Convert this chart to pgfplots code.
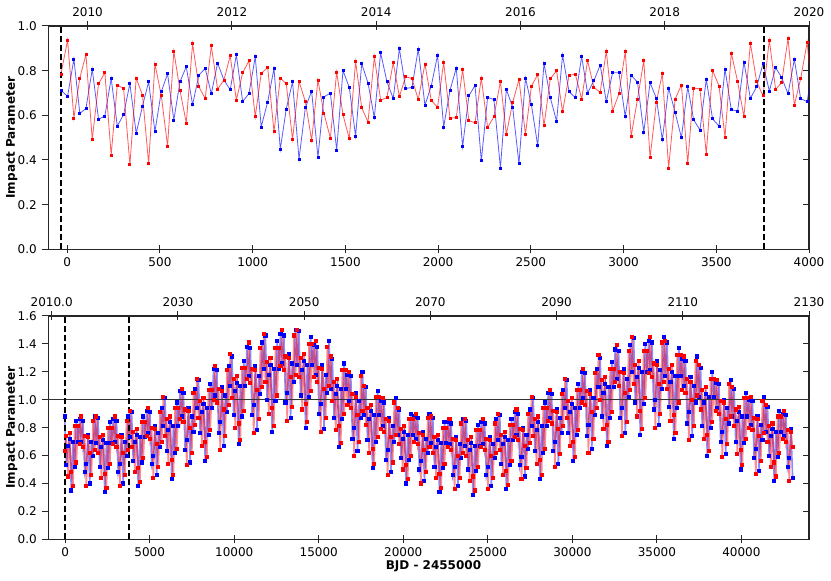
\documentclass[border=0pt]{standalone}
\usepackage{fontspec}
\setmainfont{DejaVu Sans}
\usepackage{pgfplots}
\usepackage{pgfplotstable}
\pgfplotsset{compat=1.18}

\pgfplotstableread{
x r b
-34 0.785 0.712
2 0.936 0.685
36 0.588 0.852
68 0.767 0.609
101 0.873 0.630
135 0.492 0.807
169 0.742 0.582
203 0.790 0.597
237 0.422 0.765
270 0.736 0.552
304 0.720 0.603
338 0.379 0.742
372 0.767 0.519
406 0.690 0.642
439 0.384 0.750
473 0.830 0.527
507 0.690 0.705
541 0.463 0.786
575 0.887 0.579
608 0.712 0.750
642 0.566 0.818
676 0.921 0.647
710 0.728 0.780
744 0.675 0.810
777 0.911 0.697
811 0.717 0.834
845 0.758 0.758
879 0.867 0.715
912 0.668 0.871
946 0.790 0.662
980 0.844 0.697
1014 0.594 0.862
1046 0.787 0.548
1081 0.815 0.660
1115 0.527 0.810
1149 0.766 0.448
1181 0.742 0.628
1215 0.492 0.750
1250 0.752 0.404
1284 0.662 0.634
1318 0.488 0.708
1352 0.758 0.412
1384 0.610 0.682
1419 0.498 0.700
1453 0.794 0.445
1487 0.603 0.800
1521 0.495 0.725
1555 0.841 0.507
1588 0.634 0.831
1622 0.570 0.745
1656 0.862 0.590
1690 0.668 0.880
1724 0.679 0.751
1758 0.836 0.675
1791 0.684 0.899
1825 0.773 0.720
1859 0.764 0.725
1893 0.671 0.897
1929 0.830 0.645
1963 0.667 0.731
1997 0.636 0.869
2030 0.837 0.548
2064 0.588 0.712
2098 0.590 0.812
2132 0.805 0.460
2166 0.576 0.687
2199 0.567 0.734
2233 0.767 0.396
2267 0.545 0.681
2301 0.594 0.670
2336 0.752 0.364
2368 0.515 0.716
2402 0.657 0.636
2436 0.760 0.384
2471 0.515 0.767
2503 0.731 0.648
2537 0.782 0.464
2571 0.554 0.833
2605 0.764 0.679
2639 0.799 0.573
2671 0.616 0.870
2706 0.779 0.706
2740 0.784 0.679
2774 0.673 0.863
2806 0.845 0.700
2840 0.725 0.755
2874 0.703 0.825
2907 0.888 0.661
2941 0.619 0.791
2975 0.696 0.791
3009 0.885 0.594
3041 0.507 0.779
3075 0.672 0.749
3109 0.845 0.525
3143 0.410 0.746
3177 0.660 0.676
3209 0.787 0.490
3243 0.364 0.722
3278 0.672 0.613
3312 0.736 0.500
3346 0.386 0.728
3378 0.722 0.580
3412 0.718 0.534
3446 0.427 0.761
3480 0.801 0.584
3515 0.731 0.551
3547 0.501 0.807
3581 0.879 0.625
3615 0.751 0.619
3649 0.594 0.839
3684 0.922 0.676
3718 0.750 0.728
3752 0.687 0.831
3786 0.937 0.709
3820 0.716 0.813
3852 0.746 0.770
3887 0.945 0.696
3921 0.646 0.851
3955 0.764 0.675
3990 0.927 0.661
4024 0.630 0.840
}\topdata

\pgfplotstableread{
x r b
-34 0.63 0.88
65 0.74 0.53
164 0.45 0.67
263 0.76 0.72
362 0.48 0.35
461 0.38 0.70
560 0.81 0.52
659 0.55 0.85
758 0.81 0.70
857 0.68 0.86
956 0.88 0.70
1055 0.66 0.85
1154 0.74 0.48
1253 0.38 0.54
1352 0.73 0.75
1451 0.62 0.40
1550 0.46 0.70
1649 0.85 0.60
1748 0.64 0.88
1847 0.88 0.69
1946 0.62 0.87
2045 0.73 0.52
2144 0.44 0.66
2243 0.75 0.71
2342 0.47 0.34
2441 0.37 0.69
2540 0.80 0.51
2639 0.54 0.84
2738 0.80 0.69
2837 0.68 0.86
2936 0.88 0.70
3035 0.66 0.85
3134 0.74 0.48
3233 0.38 0.54
3332 0.73 0.75
3431 0.62 0.40
3530 0.46 0.70
3629 0.85 0.60
3728 0.64 0.88
3827 0.92 0.73
3926 0.66 0.91
4025 0.77 0.56
4124 0.48 0.70
4223 0.79 0.75
4322 0.51 0.38
4421 0.41 0.73
4520 0.84 0.55
4619 0.58 0.88
4718 0.84 0.73
4817 0.74 0.92
4916 0.94 0.76
5015 0.72 0.91
5114 0.80 0.54
5213 0.44 0.60
5312 0.79 0.81
5411 0.68 0.46
5510 0.52 0.76
5609 0.91 0.66
5708 0.70 0.94
5807 1.02 0.81
5906 0.74 1.01
6005 0.86 0.63
6104 0.54 0.78
6203 0.88 0.84
6302 0.57 0.43
6401 0.46 0.81
6500 0.94 0.62
6599 0.65 0.98
6698 0.94 0.81
6797 0.86 1.06
6896 1.08 0.88
6995 0.84 1.05
7094 0.93 0.64
7193 0.53 0.71
7292 0.92 0.94
7391 0.80 0.55
7490 0.62 0.88
7589 1.05 0.77
7688 0.82 1.08
7787 1.15 0.94
7886 0.87 1.14
7985 0.99 0.76
8084 0.67 0.91
8183 1.01 0.97
8282 0.70 0.56
8381 0.59 0.94
8480 1.07 0.75
8579 0.78 1.11
8678 1.07 0.94
8777 1.00 1.22
8876 1.24 1.03
8975 0.98 1.21
9074 1.08 0.76
9173 0.64 0.84
9272 1.06 1.09
9371 0.93 0.67
9470 0.74 1.03
9569 1.21 0.91
9668 0.96 1.24
9767 1.33 1.10
9866 1.01 1.31
9965 1.15 0.89
10064 0.80 1.06
10163 1.17 1.12
10262 0.83 0.68
10361 0.71 1.10
10460 1.23 0.88
10559 0.92 1.28
10658 1.23 1.10
10757 1.15 1.38
10856 1.41 1.17
10955 1.12 1.37
11054 1.22 0.89
11153 0.76 0.96
11252 1.21 1.24
11351 1.07 0.78
11450 0.86 1.17
11549 1.37 1.04
11648 1.09 1.41
11747 1.47 1.22
11846 1.13 1.46
11945 1.27 1.00
12044 0.90 1.18
12143 1.30 1.25
12242 0.94 0.77
12341 0.81 1.22
12440 1.37 0.99
12539 1.03 1.42
12638 1.37 1.22
12737 1.24 1.47
12836 1.50 1.26
12935 1.21 1.46
13034 1.31 0.98
13133 0.85 1.05
13232 1.30 1.33
13331 1.16 0.87
13430 0.95 1.26
13529 1.46 1.13
13628 1.18 1.50
13727 1.50 1.25
13826 1.16 1.49
13925 1.30 1.03
14024 0.93 1.21
14123 1.33 1.28
14222 0.97 0.80
14321 0.84 1.25
14420 1.40 1.02
14519 1.06 1.45
14618 1.40 1.25
14717 1.16 1.39
14816 1.42 1.18
14915 1.13 1.38
15014 1.23 0.90
15113 0.77 0.97
15212 1.22 1.25
15311 1.08 0.79
15410 0.87 1.18
15509 1.38 1.05
15608 1.10 1.42
15707 1.31 1.08
15806 0.99 1.29
15905 1.13 0.87
16004 0.78 1.04
16103 1.15 1.10
16202 0.81 0.66
16301 0.69 1.08
16400 1.21 0.86
16499 0.90 1.26
16598 1.21 1.08
16697 0.96 1.18
16796 1.20 0.99
16895 0.94 1.17
16994 1.04 0.72
17093 0.60 0.80
17192 1.02 1.05
17291 0.89 0.63
17390 0.70 0.99
17489 1.17 0.87
17588 0.92 1.20
17687 1.10 0.89
17786 0.82 1.09
17885 0.94 0.71
17984 0.62 0.86
18083 0.96 0.92
18182 0.65 0.51
18281 0.54 0.89
18380 1.02 0.70
18479 0.73 1.06
18578 1.02 0.89
18677 0.79 0.99
18776 1.01 0.81
18875 0.77 0.98
18974 0.86 0.57
19073 0.46 0.64
19172 0.85 0.87
19271 0.73 0.48
19370 0.55 0.81
19469 0.98 0.70
19568 0.75 1.01
19667 0.94 0.75
19766 0.68 0.93
19865 0.79 0.58
19964 0.50 0.72
20063 0.81 0.77
20162 0.53 0.40
20261 0.43 0.75
20360 0.86 0.57
20459 0.60 0.90
20558 0.86 0.75
20657 0.70 0.88
20756 0.90 0.72
20855 0.68 0.87
20954 0.76 0.50
21053 0.40 0.56
21152 0.75 0.77
21251 0.64 0.42
21350 0.48 0.72
21449 0.87 0.62
21548 0.66 0.90
21647 0.88 0.69
21746 0.62 0.87
21845 0.73 0.52
21944 0.44 0.66
22043 0.75 0.71
22142 0.47 0.34
22241 0.37 0.69
22340 0.80 0.51
22439 0.54 0.84
22538 0.80 0.69
22637 0.66 0.84
22736 0.86 0.68
22835 0.64 0.83
22934 0.72 0.46
23033 0.36 0.52
23132 0.71 0.73
23231 0.60 0.38
23330 0.44 0.68
23429 0.83 0.58
23528 0.62 0.86
23627 0.86 0.67
23726 0.60 0.85
23825 0.71 0.50
23924 0.42 0.64
24023 0.73 0.69
24122 0.45 0.32
24221 0.35 0.67
24320 0.78 0.49
24419 0.52 0.82
24518 0.78 0.67
24617 0.66 0.84
24716 0.86 0.68
24815 0.64 0.83
24914 0.72 0.46
25013 0.36 0.52
25112 0.71 0.73
25211 0.60 0.38
25310 0.44 0.68
25409 0.83 0.58
25508 0.62 0.86
25607 0.90 0.71
25706 0.64 0.89
25805 0.75 0.54
25904 0.46 0.68
26003 0.77 0.73
26102 0.49 0.36
26201 0.39 0.71
26300 0.82 0.53
26399 0.56 0.86
26498 0.82 0.71
26597 0.73 0.91
26696 0.93 0.75
26795 0.71 0.90
26894 0.79 0.53
26993 0.43 0.59
27092 0.78 0.80
27191 0.67 0.45
27290 0.51 0.75
27389 0.90 0.65
27488 0.69 0.93
27587 1.02 0.81
27686 0.74 1.01
27785 0.86 0.63
27884 0.54 0.78
27983 0.88 0.84
28082 0.57 0.43
28181 0.46 0.81
28280 0.94 0.62
28379 0.65 0.98
28478 0.94 0.81
28577 0.85 1.05
28676 1.07 0.87
28775 0.83 1.04
28874 0.92 0.63
28973 0.52 0.70
29072 0.91 0.93
29171 0.79 0.54
29270 0.61 0.87
29369 1.04 0.76
29468 0.81 1.07
29567 1.15 0.94
29666 0.87 1.14
29765 0.99 0.76
29864 0.67 0.91
29963 1.01 0.97
30062 0.70 0.56
30161 0.59 0.94
30260 1.07 0.75
30359 0.78 1.11
30458 1.07 0.94
30557 0.98 1.20
30656 1.22 1.01
30755 0.96 1.19
30854 1.06 0.74
30953 0.62 0.82
31052 1.04 1.07
31151 0.91 0.65
31250 0.72 1.01
31349 1.19 0.89
31448 0.94 1.22
31547 1.32 1.09
31646 1.00 1.30
31745 1.14 0.88
31844 0.79 1.05
31943 1.16 1.11
32042 0.82 0.67
32141 0.70 1.09
32240 1.22 0.87
32339 0.91 1.27
32438 1.22 1.09
32537 1.13 1.36
32636 1.39 1.15
32735 1.10 1.35
32834 1.20 0.87
32933 0.74 0.94
33032 1.19 1.22
33131 1.05 0.76
33230 0.84 1.15
33329 1.35 1.02
33428 1.07 1.39
33527 1.45 1.20
33626 1.11 1.44
33725 1.25 0.98
33824 0.88 1.16
33923 1.28 1.23
34022 0.92 0.75
34121 0.79 1.20
34220 1.35 0.97
34319 1.01 1.40
34418 1.35 1.20
34517 1.19 1.42
34616 1.45 1.21
34715 1.16 1.41
34814 1.26 0.93
34913 0.80 1.00
35012 1.25 1.28
35111 1.11 0.82
35210 0.90 1.21
35309 1.41 1.08
35408 1.13 1.45
35507 1.42 1.17
35606 1.08 1.41
35705 1.22 0.95
35804 0.85 1.13
35903 1.25 1.20
36002 0.89 0.72
36101 0.76 1.17
36200 1.32 0.94
36299 0.98 1.37
36398 1.32 1.17
36497 1.07 1.29
36596 1.31 1.10
36695 1.05 1.28
36794 1.15 0.83
36893 0.71 0.91
36992 1.13 1.16
37091 1.00 0.74
37190 0.81 1.10
37289 1.28 0.98
37388 1.03 1.31
37487 1.25 1.02
37586 0.93 1.23
37685 1.07 0.81
37784 0.72 0.98
37883 1.09 1.04
37982 0.75 0.60
38081 0.63 1.02
38180 1.15 0.80
38279 0.84 1.20
38378 1.15 1.02
38477 0.92 1.12
38576 1.14 0.94
38675 0.90 1.11
38774 0.99 0.70
38873 0.59 0.77
38972 0.98 1.00
39071 0.86 0.61
39170 0.68 0.94
39269 1.11 0.83
39368 0.88 1.14
39467 1.09 0.88
39566 0.81 1.08
39665 0.93 0.70
39764 0.61 0.85
39863 0.95 0.91
39962 0.64 0.50
40061 0.53 0.88
40160 1.01 0.69
40259 0.72 1.05
40358 1.01 0.88
40457 0.80 1.00
40556 1.02 0.82
40655 0.78 0.99
40754 0.87 0.58
40853 0.47 0.65
40952 0.86 0.88
41051 0.74 0.49
41150 0.56 0.82
41249 0.99 0.71
41348 0.76 1.02
41447 0.96 0.77
41546 0.70 0.95
41645 0.81 0.60
41744 0.52 0.74
41843 0.83 0.79
41942 0.55 0.42
42041 0.45 0.77
42140 0.88 0.59
42239 0.62 0.92
42338 0.88 0.77
42437 0.72 0.90
42536 0.92 0.74
42635 0.70 0.89
42734 0.78 0.52
42833 0.42 0.58
42932 0.77 0.79
43031 0.66 0.44
}\botdata

\pgfplotsset{
  panel/.style={
    scale only axis, width=760.7bp, height=223.3bp, anchor=south west,
    axis line style={black!85, line width=1.1bp},
    tick style={black!85, line width=1bp},
    tick align=center, major tick length=6bp,
    ytick style={xshift=-3bp},
    xtick style={/pgfplots/major tick length=8bp},
    xtick pos=bottom, ytick pos=both,
    scaled x ticks=false, scaled y ticks=false,
    /pgf/number format/assume math mode=true,
    /pgf/number format/1000 sep={},
    yticklabel style={anchor=east, inner sep=0pt, xshift=-8.3bp,
      /pgf/number format/.cd, fixed, fixed zerofill, precision=1},
    xticklabel style={anchor=north, inner sep=0pt, yshift=-4.6bp},
    ylabel style={at={(axis description cs:-0.0481,0.5)}, anchor=center, font=\bfseries},
    clip=true,
  },
  yearax/.style={
    scale only axis, width=760.7bp, height=223.3bp, anchor=south west,
    axis x line*=top, hide y axis, ymin=0, ymax=1,
    axis line style={black!85, line width=1.1bp},
    tick style={black!85, line width=1bp},
    tick align=center, major tick length=9bp,
    /pgf/number format/assume math mode=true,
    /pgf/number format/1000 sep={},
    xticklabel style={anchor=south, inner sep=0pt, yshift=5bp},
  },
  bl/.style={draw=blue, draw opacity=0.65, line width=0.8bp, mark=square*,
    mark size=1bp, mark options={fill=blue, draw=blue, draw opacity=1, fill opacity=1}},
  rd/.style={draw=red, draw opacity=0.65, line width=0.8bp, mark=square*,
    mark size=1bp, mark options={fill=red, draw=red, draw opacity=1, fill opacity=1}},
  blb/.style={draw=blue, draw opacity=0.45, line width=1.6bp, mark=square*,
    mark size=1.25bp, mark options={fill=blue, draw=blue, draw opacity=1, fill opacity=1}},
  rdb/.style={draw=red, draw opacity=0.45, line width=1.6bp, mark=square*,
    mark size=1.25bp, mark options={fill=red, draw=red, draw opacity=1, fill opacity=1}},
  dsh/.style={black, line width=2bp, dash pattern=on 6bp off 3bp},
}

\begin{document}
\fontsize{12bp}{14bp}\selectfont
\begin{tikzpicture}
\path[use as bounding box] (0,0) rectangle (831bp,581bp);

% ---------- top panel ----------
\begin{axis}[panel, at={(48.3bp,331.7bp)},
  xmin=-102, xmax=4000, ymin=0, ymax=1,
  xtick={0,500,...,4000}, ytick={0,0.2,...,1.0},
  ylabel={Impact Parameter}]
\addplot[bl] table[x=x, y=b] {\topdata};
\addplot[rd] table[x=x, y=r] {\topdata};
\addplot[dsh] coordinates {(-36,0) (-36,1)};
\addplot[dsh] coordinates {(3755,0) (3755,1)};
\end{axis}
\begin{axis}[yearax, at={(48.3bp,331.7bp)},
  xmin=2009.455, xmax=2020, xtick={2010,2012,...,2020}]
\end{axis}

% ---------- bottom panel ----------
\begin{axis}[panel, at={(48.3bp,41.7bp)},
  xmin=-1000, xmax=44000, ymin=0, ymax=1.6,
  xtick={0,5000,...,40000}, ytick={0,0.2,...,1.6},
  ylabel={Impact Parameter},
  xlabel={BJD - 2455000},
  xlabel style={at={(axis description cs:0.5063,-0.1196)}, anchor=center, font=\bfseries}]
\addplot[blb] table[x=x, y=b] {\botdata};
\addplot[rdb] table[x=x, y=r] {\botdata};
\addplot[black!80, line width=1.3bp] coordinates {(-1000,1) (44000,1)};
\addplot[dsh] coordinates {(-20,0) (-20,1.6)};
\addplot[dsh] coordinates {(3765,0) (3765,1.6)};
\end{axis}
\begin{axis}[yearax, at={(48.3bp,41.7bp)},
  xmin=2009.46, xmax=2130, xtick={2010,2030,...,2130},
  xticklabels={2010.0,2030,2050,2070,2090,2110,2130}]
\end{axis}
\end{tikzpicture}
\end{document}
